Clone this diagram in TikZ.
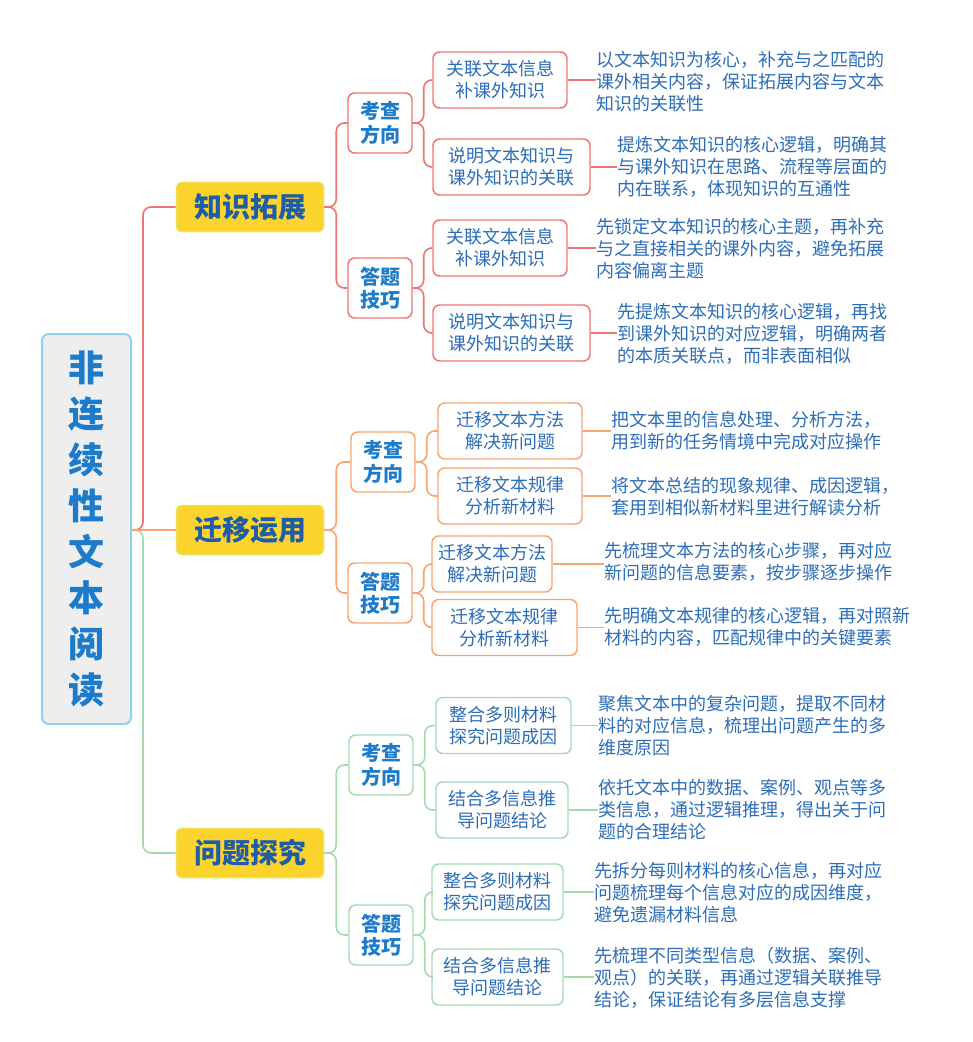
\documentclass[tikz,border=0pt]{standalone}
\usepackage{fontspec}
\setmainfont{Noto Sans CJK SC}
\definecolor{cred}{HTML}{F07272}
\definecolor{corg}{HTML}{F9A36E}
\definecolor{cgrn}{HTML}{A6D9B2}
\definecolor{tblue}{HTML}{1C7BCB}
\definecolor{dblue}{HTML}{1F5EA6}
\definecolor{lblue}{HTML}{2C6DB8}
\definecolor{yel}{HTML}{FCD42E}
\definecolor{rootbd}{HTML}{8FD1F2}
\begin{document}
\begin{tikzpicture}[x=0.75pt,y=-0.75pt,
  root/.style={draw=rootbd,line width=1.5pt,fill=gray!13,rounded corners=5pt,text=tblue,font=\fontsize{27}{34.5}\selectfont\bfseries,align=center,minimum width={89*0.75pt},minimum height={390*0.75pt}},
  lone/.style={fill=yel,draw=yel!60!green!40,rounded corners=4pt,text=dblue,font=\fontsize{21}{24}\selectfont\bfseries,minimum width={148*0.75pt},minimum height={50*0.75pt}},
  ltwo/.style={draw=#1,fill=white,line width=1.1pt,rounded corners=5pt,text=tblue,font=\fontsize{15}{17.5}\selectfont\bfseries,align=center,minimum width={64*0.75pt},minimum height={60*0.75pt},inner sep=2pt},
  lthr/.style={draw=#1,fill=white,line width=1.1pt,rounded corners=5pt,text=lblue,font=\fontsize{13.5}{16.5}\selectfont,align=center,minimum height={56*0.75pt},inner sep=3pt},
  leaf/.style={anchor=west,text=lblue,font=\fontsize{13.5}{16.5}\selectfont,align=left,inner sep=0pt},
  c/.style={draw=#1,line width=1.2pt,rounded corners=6pt}]
\useasboundingbox (0,0) rectangle (973,1042);
\node[root] (R) at (86.5,529) {非\\连\\续\\性\\文\\本\\阅\\读};
\node[lone] (A) at (250,207) {知识拓展};
\node[lone] (B) at (250,530) {迁移运用};
\node[lone] (C) at (250,853) {问题探究};
\draw[c=cred] (R.east |- 0,530) -- (143,530) |- (A.west);
\draw[c=cgrn] (R.east |- 0,530) -- (143,530) |- (C.west);
\draw[c=corg] (R.east |- 0,530) -- (B.west);
% level 2
\node[ltwo=cred] (A1) at (380,123) {考查\\方向};
\node[ltwo=cred] (A2) at (380,288) {答题\\技巧};
\node[ltwo=corg] (B1) at (383,462) {考查\\方向};
\node[ltwo=corg] (B2) at (380,593) {答题\\技巧};
\node[ltwo=cgrn] (C1) at (381,765) {考查\\方向};
\node[ltwo=cgrn] (C2) at (381,935) {答题\\技巧};
\foreach \p/\k/\col in {A/A1/cred,A/A2/cred,B/B1/corg,B/B2/corg,C/C1/cgrn,C/C2/cgrn}
  \draw[c=\col] (\p.east) -- ++(12,0) |- (\k.west);
% level 3
\node[lthr=cred,minimum width={134*0.75pt}] (A11) at (500,80) {关联文本信息\\补课外知识};
\node[lthr=cred,minimum width={157*0.75pt}] (A12) at (511.5,167) {说明文本知识与\\课外知识的关联};
\node[lthr=cred,minimum width={134*0.75pt}] (A21) at (500,248) {关联文本信息\\补课外知识};
\node[lthr=cred,minimum width={157*0.75pt}] (A22) at (511.5,333) {说明文本知识与\\课外知识的关联};
\node[lthr=corg,minimum width={144*0.75pt}] (B11) at (510,431) {迁移文本方法\\解决新问题};
\node[lthr=corg,minimum width={144*0.75pt}] (B12) at (510,496) {迁移文本规律\\分析新材料};
\node[lthr=corg,minimum width={120*0.75pt}] (B21) at (492,564) {迁移文本方法\\解决新问题};
\node[lthr=corg,minimum width={145*0.75pt}] (B22) at (504.5,627.5) {迁移文本规律\\分析新材料};
\node[lthr=cgrn,minimum width={135*0.75pt}] (C11) at (503.5,725.5) {整合多则材料\\探究问题成因};
\node[lthr=cgrn,minimum width={132*0.75pt}] (C12) at (502,810) {结合多信息推\\导问题结论};
\node[lthr=cgrn,minimum width={131*0.75pt}] (C21) at (497.5,892) {整合多则材料\\探究问题成因};
\node[lthr=cgrn,minimum width={131*0.75pt}] (C22) at (497.5,977) {结合多信息推\\导问题结论};
\foreach \p/\k/\col in {A1/A11/cred,A1/A12/cred,A2/A21/cred,A2/A22/cred,B1/B11/corg,B1/B12/corg,B2/B21/corg,B2/B22/corg,C1/C11/cgrn,C1/C12/cgrn,C2/C21/cgrn,C2/C22/cgrn}
  \draw[c=\col] (\p.east) -- ++(11,0) |- (\k.west);
% leaves
\node[leaf] (a11) at (596,82) {以文本知识为核心，补充与之匹配的\\课外相关内容，保证拓展内容与文本\\知识的关联性};
\node[leaf] (a12) at (617,167) {提炼文本知识的核心逻辑，明确其\\与课外知识在思路、流程等层面的\\内在联系，体现知识的互通性};
\node[leaf] (a21) at (596,249) {先锁定文本知识的核心主题，再补充\\与之直接相关的课外内容，避免拓展\\内容偏离主题};
\node[leaf] (a22) at (617,334) {先提炼文本知识的核心逻辑，再找\\到课外知识的对应逻辑，明确两者\\的本质关联点，而非表面相似};
\node[leaf] (b11) at (611,430.5) {把文本里的信息处理、分析方法，\\用到新的任务情境中完成对应操作};
\node[leaf] (b12) at (611,497) {将文本总结的现象规律、成因逻辑，\\套用到相似新材料里进行解读分析};
\node[leaf] (b21) at (604,562) {先梳理文本方法的核心步骤，再对应\\新问题的信息要素，按步骤逐步操作};
\node[leaf] (b22) at (604,626.5) {先明确文本规律的核心逻辑，再对照新\\材料的内容，匹配规律中的关键要素};
\node[leaf] (c11) at (598,725.5) {聚焦文本中的复杂问题，提取不同材\\料的对应信息，梳理出问题产生的多\\维度原因};
\node[leaf] (c12) at (598,809.5) {依托文本中的数据、案例、观点等多\\类信息，通过逻辑推理，得出关于问\\题的合理结论};
\node[leaf] (c21) at (594,892.5) {先拆分每则材料的核心信息，再对应\\问题梳理每个信息对应的成因维度，\\避免遗漏材料信息};
\node[leaf] (c22) at (594,977.5) {先梳理不同类型信息（数据、案例、\\观点）的关联，再通过逻辑关联推导\\结论，保证结论有多层信息支撑};
\foreach \k/\l/\col in {A11/a11/cred,A12/a12/cred,A21/a21/cred,A22/a22/cred,B11/b11/corg,B12/b12/corg,B21/b21/corg,B22/b22/corg,C11/c11/cgrn,C12/c12/cgrn,C21/c21/cgrn,C22/c22/cgrn}
  \draw[c=\col] (\k.east) -- (\k.east -| \l.west) ++(-6,0);
\end{tikzpicture}
\end{document}
